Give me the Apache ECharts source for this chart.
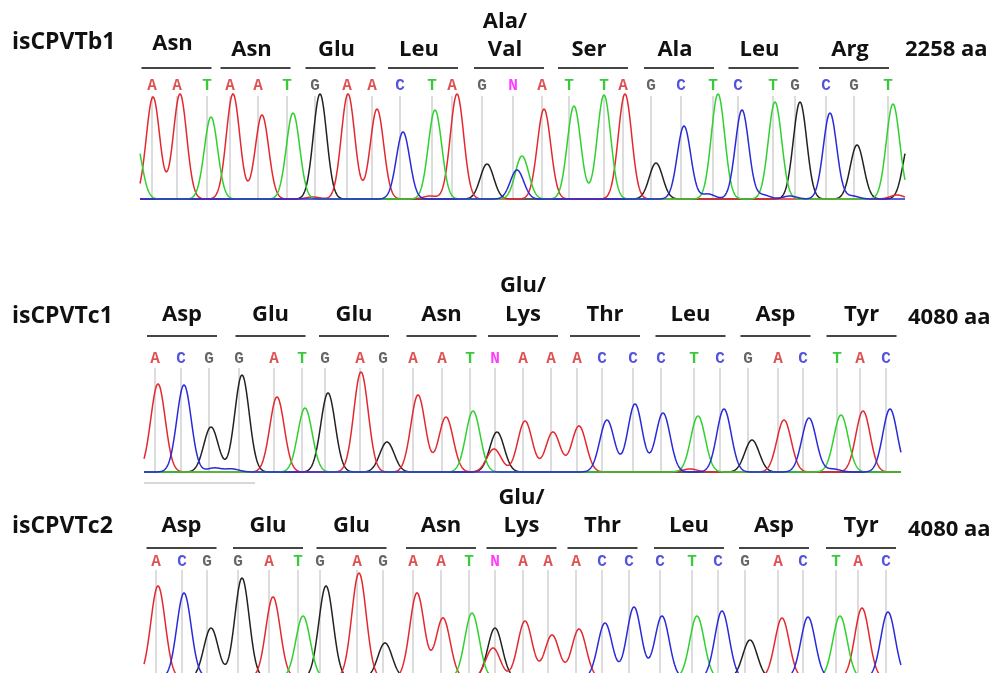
<!DOCTYPE html>
<html><head><meta charset="utf-8">
<script src="https://cdn.jsdelivr.net/npm/echarts@6/dist/echarts.min.js"></script>
<style>html,body{margin:0;padding:0;background:#fff}#c{width:993px;height:673px}</style>
</head><body><div id="c"></div>
<script>
// ---------------- data ----------------
const sampleNames = ['isCPVTb1', 'isCPVTc1', 'isCPVTc2'];
const proteinLengths = ['2258 aa', '4080 aa', '4080 aa'];

// isCPVTb1
const b1Bases = 'AATAATGAACTAGNATTAGCTCTGCGT';
const b1BaseLoc = [12,37,67,90,118,147,175,207,232,260,292,312,342,373,402,429,464,483,511,541,573,598,633,655,686,714,748];
const b1Codons = ['Asn','Asn','Glu','Leu','Ala/\nVal','Ser','Ala','Leu','Arg'];
const b1PeaksA = [[13,102],[40,105],[93,105],[122,84],[173,2],[208,105],[237,90],[290,3],[317,105],[404,90],[485,105],[757,4]];
const b1PeaksC = [[263,67],[377,29],[544,73],[568,5],[602,89],[623,4],[650,3],[690,86],[712,3]];
const b1PeaksG = [[180,105],[347,35],[516,36],[660,97],[717,54],[770,60]];
const b1PeaksT = [[71,82],[153,86],[295,89],[382,43],[434,93],[464,104],[578,105],[635,97],[753,95],[-5,60]];

// isCPVTc1
const c1Bases = 'ACGGATGAGAATNAAACCCTCGACTAC';
const c1BaseLoc = [11,37,65,95,130,158,181,216,239,269,298,326,351,379,407,433,458,489,517,550,576,604,634,659,693,716,742];
const c1Codons = ['Asp','Glu','Glu','Asn','Glu/\nLys','Thr','Leu','Asp','Tyr'];
const c1PeaksA = [[14,88],[133,75],[217,100],[274,77],[302,55],[350,23],[381,51],[409,40],[435,46],[546,3],[640,52],[719,61]];
const c1PeaksC = [[40,87],[70,4],[88,3],[463,52],[491,68],[519,59],[580,63],[665,54],[689,3],[746,63]];
const c1PeaksG = [[67,45],[98,97],[184,79],[243,30],[353,40],[608,32]];
const c1PeaksT = [[161,64],[329,61],[554,56],[697,57]];

// isCPVTc2 (baseline falls just below the picture)
const c2Bases = 'ACGGATGAGAATNAAACCCTCGACTAC';
const c2BaseLoc = [12,38,63,94,125,154,176,213,239,269,297,325,351,379,404,432,458,485,516,548,574,601,634,659,692,714,742];
const c2Codons = ['Asp','Glu','Glu','Asn','Glu/\nLys','Thr','Leu','Asp','Tyr'];
const c2PeaksA = [[14,92],[129,81],[215,105],[273,85],[299,60],[349,30],[381,57],[408,43],[435,49],[638,60],[718,70]];
const c2PeaksC = [[40,85],[70,4],[461,55],[490,71],[518,62],[578,67],[664,61],[744,66]];
const c2PeaksG = [[67,50],[98,100],[182,92],[241,35],[351,50],[606,38]];
const c2PeaksT = [[159,62],[328,65],[553,62],[696,62]];

// ---------------- styling / layout ----------------
const traceColor = { A: '#e3282e', C: '#2a2ad8', G: '#222222', T: '#2ed12e' };
const letterColor = { A: '#e05252', C: '#5353dc', G: '#666666', T: '#3cc83c', N: '#ff3cff' };
const channelOrder = ['G', 'A', 'T', 'C'];
const labelFont = 'bold 22px "Open Sans"';
const titleFont = 'bold 23px "Open Sans"';
const baseFont = 'bold 16px "Liberation Mono"';

const panels = [
  { name: sampleNames[0], len: proteinLengths[0], bases: b1Bases, loc: b1BaseLoc, codons: b1Codons,
    peaks: { A: b1PeaksA, C: b1PeaksC, G: b1PeaksG, T: b1PeaksT },
    L: { left: 140, top: 79, width: 765, sigma: 6.7, letterY: 113, lineTop: 103, olY: 131, labelY: 149, firstLabelY: 155,
         upper: 28, olShift: -3, labelShift: -4, titleY: 42.5, lenY: 50, lenX: 905 } },
  { name: sampleNames[1], len: proteinLengths[1], bases: c1Bases, loc: c1BaseLoc, codons: c1Codons,
    peaks: { A: c1PeaksA, C: c1PeaksC, G: c1PeaksG, T: c1PeaksT },
    L: { left: 144, top: 352, width: 757, sigma: 7.2, letterY: 113, lineTop: 104, olY: 136, labelY: 157, firstLabelY: 157,
         upper: 29, olShift: 0, labelShift: 0, titleY: 316.5, lenY: 317.5, lenX: 908 } },
  { name: sampleNames[2], len: proteinLengths[2], bases: c2Bases, loc: c2BaseLoc, codons: c2Codons,
    peaks: { A: c2PeaksA, C: c2PeaksC, G: c2PeaksG, T: c2PeaksT },
    L: { left: 144, top: 558, width: 757, sigma: 7.2, letterY: 116, lineTop: 108, olY: 130, labelY: 152, firstLabelY: 152,
         upper: 28, olShift: 0, labelShift: 0, titleY: 526.5, lenY: 529.5, lenX: 908 } }
];
const yMax = 120;

const grids = [], xAxes = [], yAxes = [], series = [], graphics = [];

panels.forEach((P, gi) => {
  const L = P.L;
  grids.push({ left: L.left, top: L.top, width: L.width, height: 120, containLabel: false, outerBoundsMode: 'none' });
  xAxes.push({ type: 'value', gridIndex: gi, min: 0, max: L.width, show: false });
  yAxes.push({ type: 'value', gridIndex: gi, min: 0, max: yMax, show: false });

  // base-call lines and letters
  series.push({
    type: 'custom', xAxisIndex: gi, yAxisIndex: gi, silent: true, z: 1,
    data: P.loc.map((x, i) => [x, i]),
    renderItem: function (params, api) {
      const x = api.value(0);
      const ch = P.bases[params.dataIndex];
      const p0 = api.coord([x, 0]);
      const p1 = api.coord([x, L.lineTop]);
      const pt = api.coord([x, L.letterY]);
      return { type: 'group', children: [
        { type: 'line', shape: { x1: p0[0], y1: p0[1], x2: p1[0], y2: p1[1] },
          style: { stroke: '#d0d0d0', lineWidth: 1.5 } },
        { type: 'text', x: pt[0], y: pt[1],
          style: { text: ch, fill: letterColor[ch], font: baseFont, align: 'center', verticalAlign: 'middle' } }
      ] };
    }
  });

  // codon overlines and amino-acid labels
  series.push({
    type: 'custom', xAxisIndex: gi, yAxisIndex: gi, silent: true, z: 2,
    data: P.codons.map((c, i) => [(P.loc[3 * i] + P.loc[3 * i + 2]) / 2, i]),
    renderItem: function (params, api) {
      const cx = api.value(0);
      const i = params.dataIndex;
      const a = api.coord([cx + L.olShift - 35, L.olY]);
      const b = api.coord([cx + L.olShift + 35, L.olY]);
      const lines = P.codons[i].split('\n');
      const baseY = i === 0 ? L.firstLabelY : L.labelY;
      const children = [
        { type: 'line', shape: { x1: a[0], y1: a[1], x2: b[0], y2: b[1] }, style: { stroke: '#454545', lineWidth: 2 } }
      ];
      lines.forEach((t, k) => {
        const yv = baseY + (lines.length - 1 - k) * L.upper;
        const p = api.coord([cx + L.olShift + L.labelShift, yv]);
        children.push({ type: 'text', x: p[0], y: p[1],
          style: { text: t, fill: '#111', font: labelFont, align: 'center', verticalAlign: 'middle' } });
      });
      return { type: 'group', children: children };
    }
  });

  // chromatogram traces (sum of peaks per channel)
  channelOrder.forEach(ch => {
    const pk = P.peaks[ch];
    series.push({
      type: 'custom', xAxisIndex: gi, yAxisIndex: gi, silent: true, z: 3,
      data: pk,
      renderItem: function (params, api) {
        if (params.dataIndex !== 0) return null;
        const pts = [];
        for (let x = 0; x <= L.width; x += 0.5) {
          let y = 0;
          for (let j = 0; j < pk.length; j++) {
            const d = (x - pk[j][0]) / L.sigma;
            y += pk[j][1] * Math.exp(-0.5 * d * d);
          }
          pts.push(api.coord([x, y]));
        }
        return { type: 'polyline', shape: { points: pts },
          style: { stroke: traceColor[ch], fill: null, lineWidth: 1.5 } };
      }
    });
  });

  graphics.push({ type: 'text', x: 12, y: L.titleY,
    style: { text: P.name, font: titleFont, fill: '#111', align: 'left', verticalAlign: 'middle', textAlign: 'left', textVerticalAlign: 'middle' } });
  graphics.push({ type: 'text', x: L.lenX, y: L.lenY,
    style: { text: P.len, font: labelFont, fill: '#111', align: 'left', verticalAlign: 'middle', textAlign: 'left', textVerticalAlign: 'middle' } });
});

// scroll-bar remnant under the second trace
graphics.push({ type: 'line', shape: { x1: 144, y1: 483, x2: 255, y2: 483 }, style: { stroke: '#d8d8d8', lineWidth: 2 } });

const chart = echarts.init(document.getElementById('c'), null, { renderer: 'canvas' });
chart.setOption({
  backgroundColor: '#ffffff',
  animation: false,
  grid: grids, xAxis: xAxes, yAxis: yAxes,
  series: series,
  graphic: graphics
});
</script>
</body></html>
